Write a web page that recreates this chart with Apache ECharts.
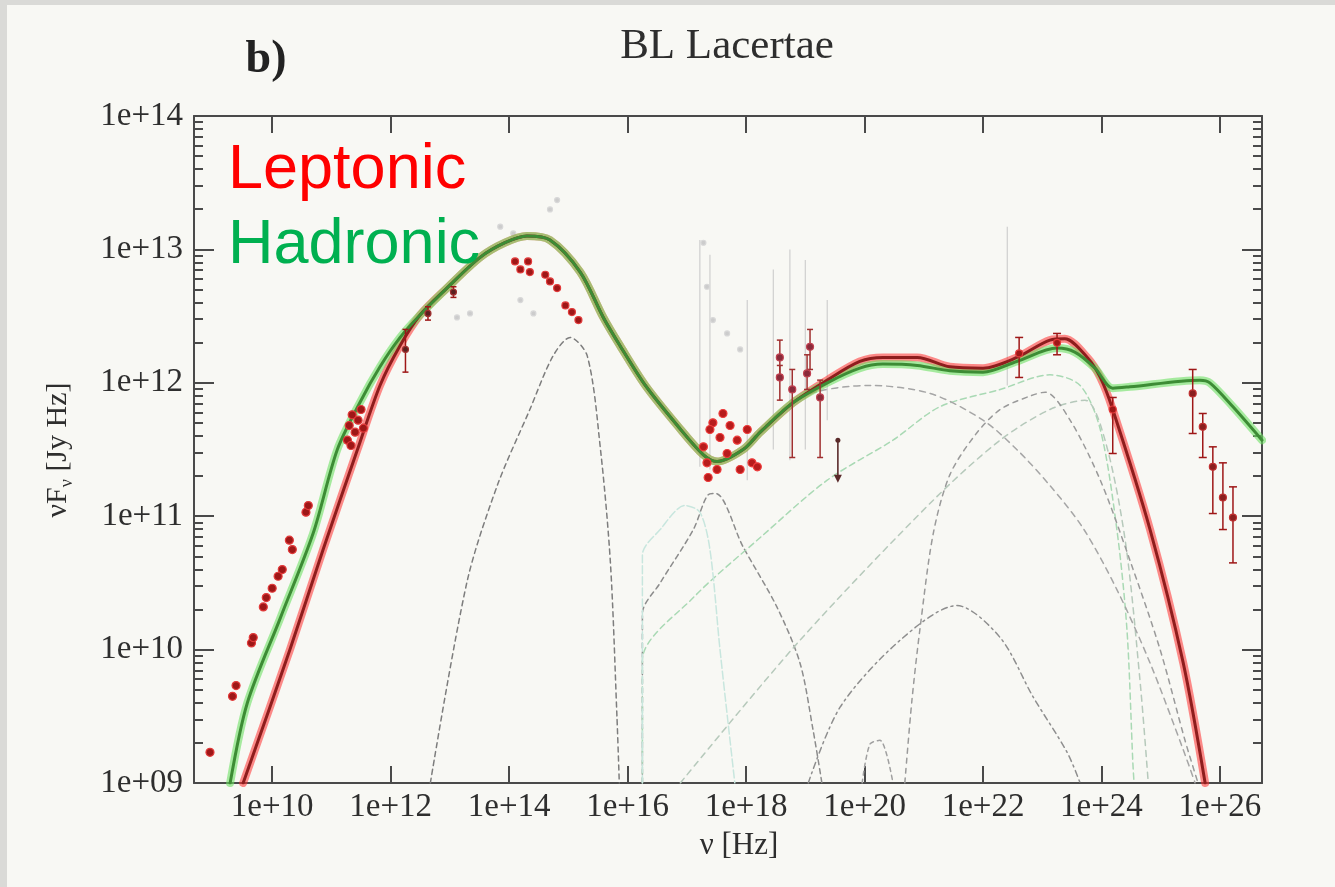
<!DOCTYPE html>
<html>
<head>
<meta charset="utf-8">
<title>BL Lacertae SED</title>
<script src="https://cdn.jsdelivr.net/npm/echarts@6/dist/echarts.min.js"></script>
<style>
  html, body { margin: 0; padding: 0; background: #f8f8f4; }
  #chart { width: 1335px; height: 887px; }
</style>
</head>
<body>
<div id="chart"></div>
<script>
// All values are stored as [log10(nu / Hz), log10(nuFnu / Jy Hz)]
// error bars: [log nu, log value, log lower, log upper]

const xTickExp = [10, 12, 14, 16, 18, 20, 22, 24, 26];
const yTickExp = [9, 10, 11, 12, 13, 14];
const xRangeExp = [8.68, 26.71];
const yRangeExp = [9, 14];

// total model curves
const leptonicModel = [[9.51,9.00],[10.30,10.00],[10.86,10.75],[11.44,11.50],[11.82,11.98],[12.16,12.28],[12.50,12.51],[12.95,12.71],[13.51,12.94],[13.93,13.05],[14.30,13.10],[14.69,13.07],[15.20,12.83],[15.59,12.49],[15.87,12.28],[16.30,11.98],[16.84,11.68],[17.28,11.46],[17.51,11.41],[17.95,11.50],[18.24,11.63],[18.79,11.85],[19.37,12.02],[19.92,12.16],[20.31,12.19],[20.89,12.19],[21.44,12.12],[22.00,12.11],[22.57,12.19],[23.13,12.32],[23.38,12.33],[23.76,12.19],[23.98,12.04],[24.19,11.80],[24.82,10.90],[25.38,9.90],[25.75,9.00]];
const hadronicModel = [[9.29,9.00],[9.58,9.60],[10.14,10.24],[10.69,10.87],[11.10,11.50],[11.49,11.86],[11.82,12.12],[12.16,12.34],[12.50,12.51],[12.95,12.71],[13.51,12.94],[13.93,13.05],[14.30,13.10],[14.69,13.07],[15.20,12.83],[15.59,12.49],[15.87,12.28],[16.30,11.98],[16.84,11.68],[17.28,11.46],[17.51,11.41],[17.95,11.50],[18.24,11.63],[18.79,11.85],[19.37,12.00],[19.92,12.11],[20.31,12.14],[20.89,12.13],[21.44,12.09],[22.00,12.08],[22.57,12.16],[23.25,12.26],[23.55,12.23],[23.89,12.11],[24.19,11.96],[24.48,11.97],[25.66,12.02],[25.83,12.00],[26.22,11.82],[26.71,11.57]];

// individual emission components
const compSyncBump   = [[12.67,9.00],[13.29,10.51],[13.80,11.23],[14.35,11.80],[14.74,12.20],[15.03,12.34],[15.32,12.20],[15.54,11.51],[15.71,10.65],[15.82,9.50],[15.86,9.00]];
const compXrayBump   = [[16.25,9.00],[16.25,10.27],[16.55,10.50],[17.11,10.90],[17.36,11.16],[17.49,11.17],[17.95,10.77],[18.52,10.32],[18.91,9.90],[19.13,9.40],[19.28,9.00]];
const compProtonSyn  = [[16.25,9.00],[16.25,9.92],[17.11,10.39],[18.24,10.84],[19.37,11.27],[20.48,11.57],[21.27,11.82],[22.29,11.95],[23.13,12.06],[23.64,11.98],[23.98,11.65],[24.26,10.90],[24.43,10.15],[24.53,9.15],[24.55,9.00]];
const compPairBump   = [[16.25,9.00],[16.25,10.71],[16.55,10.90],[16.97,11.08],[17.22,11.03],[17.39,10.75],[17.56,10.00],[17.81,9.00]];
const compMuonSyn    = [[16.89,9.00],[18.91,10.07],[21.16,11.12],[22.29,11.57],[23.13,11.80],[23.72,11.87],[24.06,11.57],[24.40,10.82],[24.65,9.77],[24.79,9.00]];
const compSSC        = [[18.07,11.57],[18.91,11.89],[20.09,11.98],[21.11,11.92],[22.00,11.72],[22.57,11.50],[23.13,11.23],[23.69,10.91],[24.26,10.45],[24.82,9.90],[25.38,9.25],[25.58,9.00]];
const compEC         = [[20.68,9.00],[20.80,9.62],[20.94,10.17],[21.16,10.87],[21.44,11.31],[21.87,11.61],[22.29,11.80],[22.79,11.90],[23.05,11.93],[23.47,11.72],[23.98,11.27],[24.48,10.67],[24.99,10.00],[25.41,9.32],[25.63,9.00]];
const compPionCasc   = [[19.05,9.00],[19.59,9.57],[20.60,10.07],[21.56,10.33],[22.29,10.09],[22.84,9.65],[23.42,9.23],[23.64,9.00]];
const compSmallBump  = [[19.96,9.00],[20.09,9.29],[20.26,9.32],[20.48,9.00]];

// observations (simultaneous)
const radioObs = [[8.95,9.23],[9.33,9.65],[9.39,9.73],[9.65,10.05],[9.68,10.09],[9.85,10.32],[9.90,10.39],[10.00,10.46],[10.10,10.55],[10.17,10.60],[10.29,10.82],[10.34,10.75],[10.57,11.03],[10.61,11.08]];
const mmObs = [[11.27,11.57],[11.30,11.68],[11.35,11.76],[11.40,11.63],[11.45,11.72],[11.50,11.80],[11.54,11.66],[11.33,11.53]];
const irObs = [[12.25,12.25,12.08,12.40],[12.63,12.52,12.47,12.57],[13.06,12.68,12.64,12.72]];
const optObs = [[14.10,12.91],[14.19,12.85],[14.32,12.91],[14.35,12.83],[14.61,12.81],[14.69,12.76],[14.81,12.71],[14.95,12.58],[15.06,12.53],[15.17,12.47]];
const xrayObs = [[17.28,11.52],[17.44,11.70],[17.61,11.77],[17.56,11.59],[17.34,11.40],[17.51,11.35],[17.68,11.47],[17.85,11.57],[18.02,11.65],[17.90,11.35],[17.36,11.29],[18.10,11.40],[18.19,11.37],[17.39,11.65],[17.73,11.68]];
const hardXObs = [[18.57,12.19,12.06,12.32],[18.57,12.04,11.87,12.13],[18.78,11.95,11.44,12.10],[19.08,12.27,12.10,12.40],[19.03,12.07,11.95,12.21],[19.25,11.89,11.44,12.02]];
const hardXLimit = [[19.55,11.57,11.25]];
const gammaObs = [[22.61,12.22,12.04,12.34],[23.25,12.30,12.21,12.37],[24.19,11.80,11.47,11.89]];
const vheObs = [[25.54,11.92,11.62,12.10],[25.71,11.67,11.44,11.77],[25.88,11.37,11.02,11.52],[26.05,11.14,10.90,11.40],[26.22,10.99,10.65,11.22]];

// archival observations
const archPts = [[13.12,12.49],[13.34,12.52],[13.85,13.17],[14.07,13.12],[14.69,13.30],[14.81,13.37],[14.19,12.62],[14.41,12.52],[17.28,13.05],[17.34,12.72],[17.44,12.47],[17.68,12.37],[17.90,12.25]];
const archBars = [[17.22,12.62,11.37,13.07],[17.39,12.40,11.35,12.96],[18.02,12.17,11.27,12.62],[18.46,12.40,11.50,12.85],[18.74,12.62,11.42,13.00],[19.00,12.47,11.50,12.92],[19.37,12.40,11.72,12.62],[22.41,12.62,11.98,13.17]];

// ---------------------------------------------------------------
const lin = rows => rows.map(r => r.map(v => Math.pow(10, v)));
const pow10 = e => Math.pow(10, e);

const yMinorVals = [];
for (let d = yRangeExp[0]; d < yRangeExp[1]; d++) {
  for (let k = 2; k <= 9; k++) yMinorVals.push(k * pow10(d));
}
const xMajorVals = xTickExp.map(pow10);
const yMajorVals = yTickExp.map(pow10);

const expLabel = v => {
  const e = Math.round(Math.log10(v));
  return '1e+' + (e < 10 ? '0' : '') + e;
};

const serif = '"Liberation Serif", "DejaVu Serif", serif';
const sans = '"Liberation Sans", Arial, sans-serif';
const axisColor = '#4a4a4a';

function makeXAxis(position, showLabel) {
  return {
    type: 'log', logBase: 10, position,
    min: pow10(xRangeExp[0]), max: pow10(xRangeExp[1]),
    axisLine: { show: true, onZero: false, lineStyle: { color: axisColor, width: 2 } },
    axisTick: { show: true, inside: true, length: 17, customValues: xMajorVals,
                lineStyle: { color: axisColor, width: 2 } },
    axisLabel: { show: showLabel, customValues: xMajorVals, formatter: expLabel,
                 fontFamily: serif, fontSize: 33, color: '#2e2e2e', margin: 8 },
    splitLine: { show: false }, minorTick: { show: false }
  };
}
function makeYAxis(position, major, showLabel) {
  return {
    type: 'log', logBase: 10, position,
    min: pow10(yRangeExp[0]), max: pow10(yRangeExp[1]),
    axisLine: { show: major, onZero: false, lineStyle: { color: axisColor, width: 2 } },
    axisTick: { show: true, inside: true, length: major ? 20 : 9,
                customValues: major ? yMajorVals : yMinorVals,
                lineStyle: { color: axisColor, width: 2 } },
    axisLabel: { show: showLabel, customValues: yMajorVals, formatter: expLabel,
                 fontFamily: serif, fontSize: 33, color: '#2e2e2e', margin: 11 },
    splitLine: { show: false }, minorTick: { show: false }
  };
}

function modelLine(data, color, width, z, dash) {
  return {
    type: 'line', data: lin(data), xAxisIndex: 0, yAxisIndex: 0,
    showSymbol: false, smooth: 0.3, silent: true, z,
    lineStyle: { color, width, type: dash || 'solid', cap: 'round', join: 'round' },
    clip: true
  };
}
function compLine(data, color, dash) {
  return modelLine(data, color, 1.5, 2, dash);
}

function errorBars(color, width, cap) {
  return function (params, api) {
    const x = api.value(0);
    const lo = api.coord([x, api.value(2)]);
    const hi = api.coord([x, api.value(3)]);
    const st = { stroke: color, lineWidth: width };
    return {
      type: 'group', children: [
        { type: 'line', shape: { x1: lo[0], y1: lo[1], x2: hi[0], y2: hi[1] }, style: st },
        { type: 'line', shape: { x1: lo[0] - cap, y1: lo[1], x2: lo[0] + cap, y2: lo[1] }, style: st },
        { type: 'line', shape: { x1: hi[0] - cap, y1: hi[1], x2: hi[0] + cap, y2: hi[1] }, style: st }
      ]
    };
  };
}
function barSeries(data, color, width, cap, z) {
  return {
    type: 'custom', data: lin(data), xAxisIndex: 0, yAxisIndex: 0, z, silent: true,
    encode: { x: 0, y: [1, 2, 3] }, renderItem: errorBars(color, width, cap), clip: true
  };
}
function pointSeries(data, size, color, border, z) {
  return {
    type: 'scatter', data: lin(data).map(r => [r[0], r[1]]), xAxisIndex: 0, yAxisIndex: 0,
    symbol: 'circle', symbolSize: size, z, silent: true,
    itemStyle: { color, borderColor: border, borderWidth: 1.2, opacity: 1 }
  };
}

const obsRed = '#9e1717';
const obsRim = '#e23a3a';

const series = [
  // components
  compLine(compSyncBump, '#7d7d7d', [5, 4]),
  compLine(compXrayBump, '#8c8c8c', [5, 4]),
  compLine(compProtonSyn, '#a9d9b4', [6, 4]),
  compLine(compPairBump, '#c8e6de', [8, 3]),
  compLine(compMuonSyn, '#b6c9bb', [6, 5]),
  compLine(compSSC, '#a6a6a6', [6, 5]),
  compLine(compEC, '#9a9a9a', [5, 5]),
  compLine(compPionCasc, '#8e8e8e', [6, 4, 2, 4]),
  compLine(compSmallBump, '#a0a0a0', [4, 4]),
  // archival data
  barSeries(archBars, '#cfcfcf', 1.2, 0, 3),
  pointSeries(archPts, 5, '#cccccc', '#d8d8d8', 3),
  // total models
  modelLine(leptonicModel, 'rgba(255,45,45,0.55)', 8, 5),
  modelLine(hadronicModel, 'rgba(110,225,100,0.6)', 8, 6),
  modelLine(leptonicModel, '#8e1d1d', 3, 7),
  modelLine(hadronicModel, '#3d8c35', 3, 8),
  // simultaneous data
  barSeries(irObs, obsRed, 1.5, 3, 9),
  barSeries(hardXObs, '#a03030', 1.5, 3, 9),
  barSeries(gammaObs, obsRed, 1.5, 4, 9),
  barSeries(vheObs, obsRed, 1.5, 4, 9),
  {
    type: 'custom', data: lin(hardXLimit), xAxisIndex: 0, yAxisIndex: 0, z: 9, silent: true,
    encode: { x: 0, y: [1, 2] }, clip: true,
    renderItem: function (params, api) {
      const x = api.value(0);
      const top = api.coord([x, api.value(1)]);
      const bot = api.coord([x, api.value(2)]);
      return { type: 'group', children: [
        { type: 'line', shape: { x1: top[0], y1: top[1], x2: bot[0], y2: bot[1] - 6 },
          style: { stroke: '#5a2a2a', lineWidth: 1.6 } },
        { type: 'polygon', shape: { points: [[bot[0] - 4, bot[1] - 8], [bot[0] + 4, bot[1] - 8], [bot[0], bot[1]]] },
          style: { fill: '#5a2a2a' } },
        { type: 'circle', shape: { cx: top[0], cy: top[1], r: 2.5 }, style: { fill: '#5a2a2a' } }
      ] };
    }
  },
  pointSeries(radioObs, 8, obsRed, obsRim, 10),
  pointSeries(mmObs, 8, obsRed, obsRim, 10),
  pointSeries(irObs, 6, '#5a2020', '#a03030', 10),
  pointSeries(optObs, 7, obsRed, obsRim, 10),
  pointSeries(xrayObs, 8, '#b71c1c', '#ee3b3b', 10),
  pointSeries(hardXObs, 7, '#8a2a3a', '#c04050', 10),
  pointSeries(gammaObs, 7, obsRed, obsRim, 10),
  pointSeries(vheObs, 7, '#8a1f1f', '#c03030', 10)
];

const chart = echarts.init(document.getElementById('chart'), null, { renderer: 'canvas' });
chart.setOption({
  backgroundColor: '#f8f8f4',
  animation: false,
  grid: { left: 194, right: 73, top: 116, bottom: 104, containLabel: false },
  xAxis: [makeXAxis('bottom', true), makeXAxis('top', false)],
  yAxis: [makeYAxis('left', true, true), makeYAxis('left', false, false),
          makeYAxis('right', true, false), makeYAxis('right', false, false)],
  series,
  graphic: [
    { type: 'rect', left: 0, top: 0, z: -1, shape: { width: 7, height: 887 }, style: { fill: '#dadad7' } },
    { type: 'rect', left: 0, top: 0, z: -1, shape: { width: 1335, height: 5 }, style: { fill: '#dadad7' } },
    { type: 'text', x: 266, y: 60, z: 20,
      style: { text: 'b)', font: 'bold 46px ' + serif, fill: '#222', align: 'center', verticalAlign: 'middle' } },
    { type: 'text', x: 727, y: 47, z: 20,
      style: { text: 'BL Lacertae', font: '43px ' + serif, fill: '#2e2e2e', align: 'center', verticalAlign: 'middle' } },
    { type: 'text', x: 228, y: 171, z: 20,
      style: { text: 'Leptonic', font: '63px ' + sans, fill: '#ff0000', align: 'left', verticalAlign: 'middle' } },
    { type: 'text', x: 228, y: 246, z: 20,
      style: { text: 'Hadronic', font: '63px ' + sans, fill: '#00b050', align: 'left', verticalAlign: 'middle' } },
    { type: 'text', x: 739, y: 846, z: 20,
      style: { text: 'ν [Hz]', font: '31px ' + serif, fill: '#2e2e2e', align: 'center', verticalAlign: 'middle' } },
    { type: 'text', x: 58, y: 450, rotation: Math.PI / 2, z: 20,
      style: {
        text: '{a|νF}{s|ν}{a| [Jy Hz]}', align: 'center', verticalAlign: 'middle', fill: '#2e2e2e',
        rich: {
          a: { fontFamily: serif, fontSize: 30, fill: '#2e2e2e', lineHeight: 36 },
          s: { fontFamily: serif, fontSize: 18, fill: '#2e2e2e', lineHeight: 36, verticalAlign: 'bottom', padding: [14, 0, 0, 0] }
        }
      } }
  ]
});
</script>
</body>
</html>
